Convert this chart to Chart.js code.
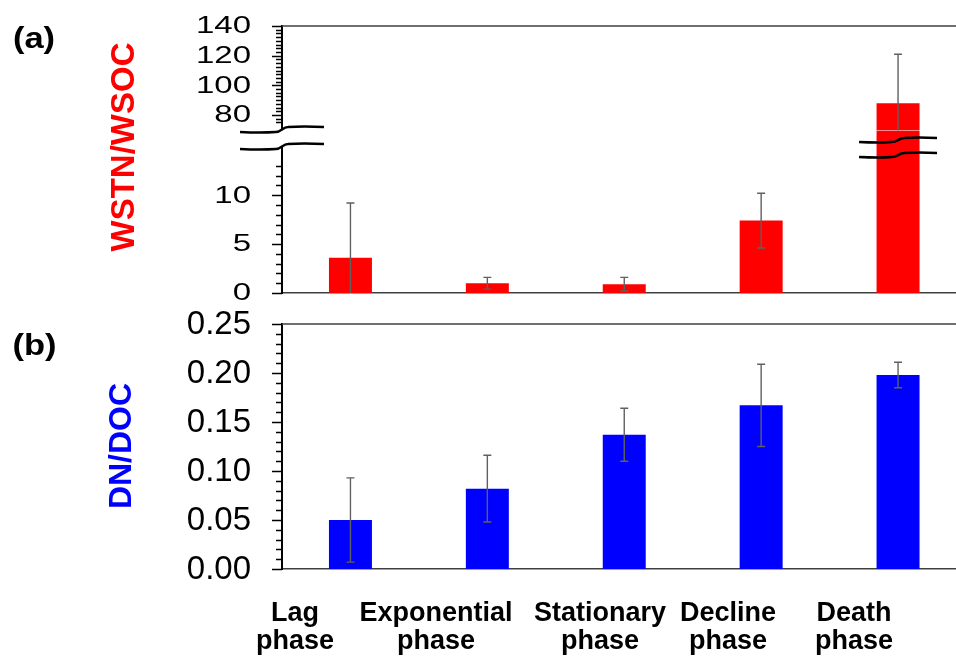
<!DOCTYPE html>
<html>
<head>
<meta charset="utf-8">
<script src="https://cdn.jsdelivr.net/npm/chart.js@4.4.1/dist/chart.umd.min.js"></script>
<style>
    html, body { margin: 0; padding: 0; background: #fff; overflow: hidden; }
    #wrap { position: relative; width: 956px; height: 662px; overflow: hidden; }
    #wrap canvas { position: absolute; left: 0; top: 0; }
</style>
</head>
<body>
<div id="wrap">
    <canvas id="chartA" width="980" height="662"></canvas>
    <canvas id="chartB" width="980" height="662"></canvas>
</div>
<script>
const phases = ['Lag phase', 'Exponential phase', 'Stationary phase', 'Decline phase', 'Death phase'];

// (a) WSTN/WSOC - mean and standard deviation
const wstnRatio = [3.6, 1.0, 0.9, 7.4, 88];
const wstnError = [5.6, 0.6, 0.7, 2.8, 33];

// (b) DN/DOC - mean and standard deviation
const dnRatio = [0.050, 0.082, 0.137, 0.167, 0.198];
const dnError = [0.043, 0.034, 0.027, 0.042, 0.013];

// labelled ticks
const wstnHighTicks = [80, 100, 120, 140];
const wstnLowTicks = [0, 5, 10];
const dnTicks = [0, 0.05, 0.10, 0.15, 0.20, 0.25];

// layout (page pixels)
const AXIS_X = 282;
const CANVAS_H = 662;
const FONT = '"Liberation Sans", Arial, sans-serif';
const phaseLabelX = [295, 436, 600, 728, 854];

// minor tick marks for each y scale
const minorTicks = {
    yHigh: { from: 75, to: 140, step: 2.5 },
    yLow: { from: 0, to: 13, step: 1 },
    y: { from: 0, to: 0.25, step: 0.01 }
};
const tickFormat = {
    yHigh: v => String(v),
    yLow: v => String(v),
    y: v => v.toFixed(2)
};
// panel (a) labels are squashed vertically in the original figure
const tickLabelSquash = { yHigh: 0.7, yLow: 0.7, y: 1 };

function fixedTicks(values) {
    return scale => { scale.ticks = values.map(v => ({ value: v })); };
}

function yScale(values, extra) {
    return Object.assign({
        position: 'left',
        grid: { display: false, drawTicks: false },
        ticks: { display: false },
        border: { display: true, color: '#000', width: 2 },
        afterBuildTicks: fixedTicks(values),
        afterFit: s => { s.width = AXIS_X; }
    }, extra);
}

const xScale = {
    grid: { display: false, drawTicks: false },
    ticks: { display: false },
    border: { display: true, color: '#404040', width: 1.5 },
    afterFit: s => { s.height = 0; }
};

function barSet(data, errors, color, axis) {
    return {
        data: data,
        errors: errors,
        yAxisID: axis,
        backgroundColor: color,
        grouped: false,
        barPercentage: 0.314,
        categoryPercentage: 1
    };
}

function clipToScale(chart, scale) {
    const ctx = chart.ctx;
    ctx.beginPath();
    ctx.rect(chart.chartArea.left, scale.top, chart.chartArea.width, scale.bottom - scale.top);
    ctx.clip();
}

// each dataset is only visible inside its own y segment (broken axis)
const segmentClip = {
    id: 'segmentClip',
    beforeDatasetDraw(chart, args) {
        chart.ctx.save();
        clipToScale(chart, chart.scales[args.meta.yAxisID]);
    },
    afterDatasetDraw(chart) {
        chart.ctx.restore();
    }
};

const errorBars = {
    id: 'errorBars',
    afterDatasetsDraw(chart) {
        const ctx = chart.ctx;
        chart.data.datasets.forEach((ds, i) => {
            const meta = chart.getDatasetMeta(i);
            const y = chart.scales[meta.yAxisID];
            ctx.save();
            clipToScale(chart, y);
            ctx.strokeStyle = '#606060';
            ctx.lineWidth = 1.4;
            meta.data.forEach((bar, j) => {
                const hi = y.getPixelForValue(ds.data[j] + ds.errors[j]);
                const lo = y.getPixelForValue(ds.data[j] - ds.errors[j]);
                ctx.beginPath();
                ctx.moveTo(bar.x, hi); ctx.lineTo(bar.x, lo);
                ctx.moveTo(bar.x - 4, hi); ctx.lineTo(bar.x + 4, hi);
                ctx.moveTo(bar.x - 4, lo); ctx.lineTo(bar.x + 4, lo);
                ctx.stroke();
            });
            ctx.restore();
        });
    }
};

function drawText(ctx, text, x, y, font, color, opts) {
    opts = opts || {};
    ctx.save();
    ctx.translate(x, y);
    if (opts.rotate) ctx.rotate(opts.rotate);
    ctx.scale(opts.sx || 1, opts.sy || 1);
    ctx.font = font;
    ctx.fillStyle = color;
    ctx.textAlign = opts.align || 'center';
    ctx.textBaseline = opts.baseline || 'middle';
    ctx.fillText(text, 0, 0);
    ctx.restore();
}

// y tick marks (major + minor), tick labels and the top frame line
const axisDecor = {
    id: 'axisDecor',
    afterDraw(chart) {
        const ctx = chart.ctx;
        const area = chart.chartArea;

        ctx.save();
        ctx.strokeStyle = '#404040';
        ctx.lineWidth = 1.5;
        ctx.beginPath();
        ctx.moveTo(area.left, area.top);
        ctx.lineTo(area.right, area.top);
        ctx.stroke();
        ctx.restore();

        Object.keys(minorTicks).forEach(id => {
            const scale = chart.scales[id];
            if (!scale) return;
            const m = minorTicks[id];
            ctx.save();
            ctx.strokeStyle = '#000';
            ctx.lineWidth = 1.5;
            ctx.beginPath();
            const n = Math.round((m.to - m.from) / m.step);
            for (let k = 0; k <= n; k++) {
                const py = Math.round(scale.getPixelForValue(m.from + k * m.step)) + 0.5;
                ctx.moveTo(area.left - 6, py);
                ctx.lineTo(area.left, py);
            }
            scale.ticks.forEach(t => {
                const py = Math.round(scale.getPixelForValue(t.value)) + 0.5;
                ctx.moveTo(area.left - 10, py);
                ctx.lineTo(area.left, py);
            });
            ctx.stroke();
            ctx.restore();

            scale.ticks.forEach(t => {
                drawText(ctx, tickFormat[id](t.value), area.left - 31, scale.getPixelForValue(t.value) + 1,
                    '33px ' + FONT, '#000', { align: 'right', sy: tickLabelSquash[id] });
            });
        });
    }
};

function wave(ctx, xc, half, y, amp) {
    ctx.moveTo(xc - half, y + amp);
    ctx.quadraticCurveTo(xc - half / 2, y + amp + 1, xc - 6, y + amp);
    ctx.bezierCurveTo(xc - 1, y + amp, xc + 1, y - amp, xc + 6, y - amp);
    ctx.quadraticCurveTo(xc + half / 2, y - amp - 1, xc + half, y - amp);
}

// break symbols on the axis and on the tall bar of panel (a)
const axisBreak = {
    id: 'axisBreak',
    afterDraw(chart) {
        const ctx = chart.ctx;
        const high = chart.scales.yHigh;
        const low = chart.scales.yLow;
        const b = high.bottom;
        const xa = chart.chartArea.left;

        ctx.save();
        // gap in the y axis
        ctx.fillStyle = '#fff';
        ctx.beginPath();
        wave(ctx, xa, 42, b - 1, 2.5);
        ctx.lineTo(xa + 42, b + 16 - 2.5);
        ctx.lineTo(xa - 42, b + 16 + 2.5);
        ctx.closePath();
        ctx.fill();
        ctx.fillRect(xa - 42, b - 1, 84, 15);

        ctx.strokeStyle = '#000';
        ctx.lineWidth = 2.5;
        ctx.beginPath();
        wave(ctx, xa, 42, b - 1, 2.5);
        wave(ctx, xa, 42, b + 16, 2.5);
        ctx.stroke();

        // bars that run through the break
        const meta = chart.getDatasetMeta(0);
        chart.data.datasets[0].data.forEach((v, j) => {
            if (v <= low.max) return;
            const xc = meta.data[j].x;
            ctx.beginPath();
            wave(ctx, xc, 39, b + 9.5, 2);
            wave(ctx, xc, 39, b + 24.5, 2);
            ctx.stroke();
        });
        ctx.restore();

        drawText(ctx, '(a)', 34, 40, 'bold 30px ' + FONT, '#000', { sx: 1.15 });
        drawText(ctx, 'WSTN/WSOC', 124.5, 147, 'bold 33px ' + FONT, '#ff0000', { rotate: -Math.PI / 2 });
    }
};

const panelBText = {
    id: 'panelBText',
    afterDraw(chart) {
        const ctx = chart.ctx;
        drawText(ctx, '(b)', 34.5, 347, 'bold 30px ' + FONT, '#000', { sx: 1.15 });
        drawText(ctx, 'DN/DOC', 122.5, 446, 'bold 32px ' + FONT, '#0000ff', { rotate: -Math.PI / 2 });

        // category labels, two lines each
        chart.data.labels.forEach((label, i) => {
            const parts = label.split(' ');
            drawText(ctx, parts[0], phaseLabelX[i], 621, 'bold 27px ' + FONT, '#000', { baseline: 'alphabetic' });
            drawText(ctx, parts[1], phaseLabelX[i], 649, 'bold 27px ' + FONT, '#000', { baseline: 'alphabetic' });
        });
    }
};

const baseOptions = {
    responsive: false,
    animation: false,
    events: [],
    plugins: { legend: { display: false }, tooltip: { enabled: false } }
};

// (a) broken y axis: two stacked linear scales showing the same data
new Chart(document.getElementById('chartA'), {
    type: 'bar',
    data: {
        labels: phases,
        datasets: [
            barSet(wstnRatio, wstnError, '#ff0000', 'yLow'),
            barSet(wstnRatio, wstnError, '#ff0000', 'yHigh')
        ]
    },
    options: Object.assign({}, baseOptions, {
        layout: { padding: { top: 26, bottom: CANVAS_H - 293, left: 0, right: 13.5 } },
        scales: {
            x: xScale,
            yLow: yScale(wstnLowTicks, { min: 0, max: 16.6, stack: 'wstn', stackWeight: 162.4, weight: 0 }),
            yHigh: yScale(wstnHighTicks, { min: 69.5, max: 140, stack: 'wstn', stackWeight: 104.6, weight: 1 })
        }
    }),
    plugins: [segmentClip, errorBars, axisDecor, axisBreak]
});

// (b) DN/DOC
new Chart(document.getElementById('chartB'), {
    type: 'bar',
    data: {
        labels: phases,
        datasets: [barSet(dnRatio, dnError, '#0000ff', 'y')]
    },
    options: Object.assign({}, baseOptions, {
        layout: { padding: { top: 324, bottom: CANVAS_H - 569, left: 0, right: 13.5 } },
        scales: {
            x: xScale,
            y: yScale(dnTicks, { min: 0, max: 0.25 })
        }
    }),
    plugins: [segmentClip, errorBars, axisDecor, panelBText]
});
</script>
</body>
</html>
